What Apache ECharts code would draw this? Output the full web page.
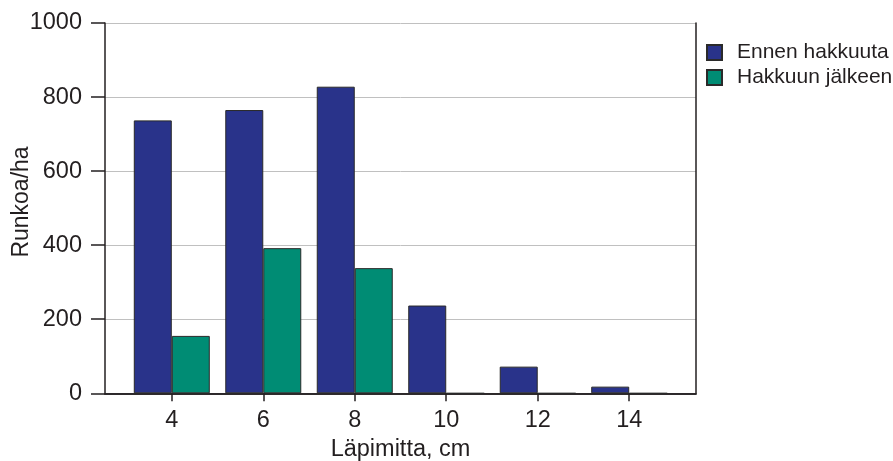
<!DOCTYPE html>
<html>
<head>
<meta charset="utf-8">
<script src="https://cdn.jsdelivr.net/npm/echarts@6/dist/echarts.min.js"></script>
<style>
  html, body { margin: 0; padding: 0; background: #fff; }
  #chart { width: 893px; height: 461px; }
</style>
</head>
<body>
<div id="chart"></div>
<script>
// Diameter classes (cm) and stems per hectare
const diameters = [4, 6, 8, 10, 12, 14];
const beforeCut = [737, 765, 828, 237, 72, 18];
const afterCut = [155, 392, 338, 0, 0, 0];
const yTicks = [0, 200, 400, 600, 800, 1000];

const seriesNames = ['Ennen hakkuuta', 'Hakkuun jälkeen'];
const colors = ['#29338A', '#008C74'];

const FONT = 'Liberation Sans, Arial, sans-serif';
const INK = '#231f20';

const chart = echarts.init(document.getElementById('chart'), null, { renderer: 'canvas' });

const pairs = (vals) => diameters.map((d, i) => [d, vals[i]]);

chart.setOption({
  animation: false,
  textStyle: { fontFamily: FONT, color: INK },
  grid: { left: 105, top: 23, right: 197, bottom: 67.7, outerBoundsMode: 'none', containLabel: false },
  legend: {
    orient: 'vertical',
    left: 706,
    top: 42,
    padding: 0,
    itemWidth: 15,
    itemHeight: 15,
    itemGap: 4,
    icon: 'rect',
    textStyle: { fontFamily: FONT, fontSize: 21, color: INK, padding: [0, 0, 0, 10] },
    data: seriesNames
  },
  xAxis: [
    {
      type: 'value',
      min: 2.54,
      max: 15.46,
      position: 'bottom',
      name: 'Läpimitta, cm',
      nameLocation: 'middle',
      nameGap: 42,
      nameTextStyle: { fontFamily: FONT, fontSize: 23.5, color: INK },
      axisLine: { show: true, lineStyle: { color: INK, width: 1.5 } },
      axisTick: { show: true, length: 8, customValues: diameters, lineStyle: { color: INK, width: 1.5 } },
      axisLabel: { customValues: diameters, margin: 15, fontFamily: FONT, fontSize: 23.5, color: INK },
      splitLine: { show: false }
    },
    {
      type: 'value',
      min: 2.54,
      max: 15.46,
      position: 'top',
      axisLine: { show: true, lineStyle: { color: INK, width: 1.5 } },
      axisTick: { show: false },
      axisLabel: { show: false },
      splitLine: { show: false }
    }
  ],
  yAxis: [
    {
      type: 'value',
      min: 0,
      max: 1000,
      interval: 200,
      position: 'left',
      axisLine: { show: true, lineStyle: { color: INK, width: 1.5 } },
      axisTick: { show: true, length: 14, customValues: yTicks, lineStyle: { color: INK, width: 1.5 } },
      axisLabel: {
        customValues: yTicks,
        formatter: (v) => String(v),
        margin: 23,
        fontFamily: FONT,
        fontSize: 23.5,
        color: INK
      },
      splitLine: { show: true, lineStyle: { color: '#c0c0c0', width: 1 } }
    },
    {
      type: 'value',
      min: 0,
      max: 1000,
      position: 'right',
      axisLine: { show: true, lineStyle: { color: INK, width: 1.5 } },
      axisTick: { show: false },
      axisLabel: { show: false },
      splitLine: { show: false }
    }
  ],
  graphic: [
    {
      type: 'text',
      x: 22,
      y: 202,
      rotation: Math.PI / 2,
      style: {
        text: 'Runkoa/ha',
        fontFamily: FONT,
        fontSize: 23,
        fill: INK,
        align: 'center',
        verticalAlign: 'middle'
      }
    }
  ],
  series: [
    {
      name: seriesNames[0],
      type: 'bar',
      xAxisIndex: 0,
      yAxisIndex: 0,
      barWidth: 38,
      barGap: '0%',
      data: pairs(beforeCut),
      itemStyle: { color: colors[0], borderColor: '#2a2a2a', borderWidth: 1 }
    },
    {
      name: seriesNames[1],
      type: 'bar',
      xAxisIndex: 0,
      yAxisIndex: 0,
      barWidth: 38,
      barGap: '0%',
      data: pairs(afterCut),
      itemStyle: { color: colors[1], borderColor: '#2a2a2a', borderWidth: 1 }
    }
  ]
});
</script>
</body>
</html>
